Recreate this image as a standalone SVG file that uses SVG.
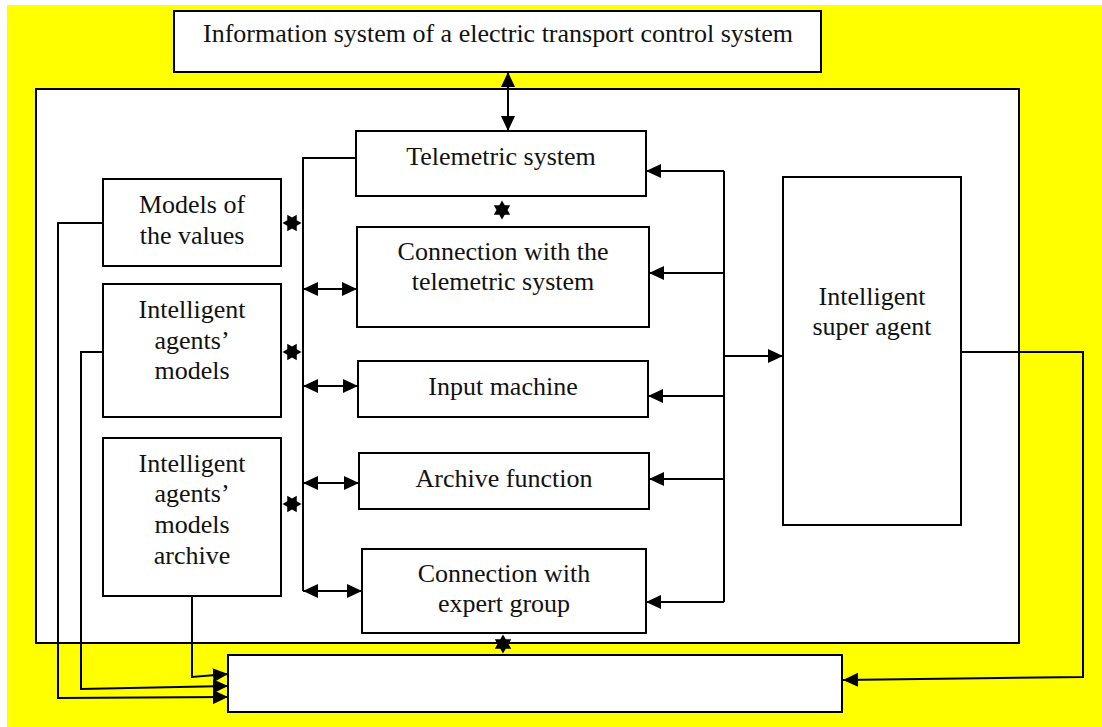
<svg xmlns="http://www.w3.org/2000/svg" width="1102" height="727" viewBox="0 0 1102 727">
<style>
.box{fill:#fff;stroke:#000;stroke-width:2}
.t{font-family:"Liberation Serif","Times New Roman",serif;font-size:26px;fill:#111;text-anchor:middle}
.c{fill:none;stroke:#000;stroke-width:2}
.a{marker-end:url(#ah)}
.aa{marker-end:url(#ah);marker-start:url(#ah)}
</style>
<defs>
<marker id="ah" markerUnits="userSpaceOnUse" markerWidth="16" markerHeight="14" refX="15" refY="7" orient="auto-start-reverse" viewBox="0 0 16 14">
<path d="M0,0 L15,7 L0,14 z" fill="#000"/>
</marker>
<polygon id="star" points="9.5,0 4.75,2.74 4.75,8.23 0,5.48 -4.75,8.23 -4.75,2.74 -9.5,0 -4.75,-2.74 -4.75,-8.23 0,-5.48 4.75,-8.23 4.75,-2.74" fill="#000"/>
</defs>
<rect x="7" y="5" width="1095" height="722" fill="#ffff00"/>
<g id="outer"><rect class="box" x="36" y="89" width="983" height="554"/></g>
<g id="info-system"><rect class="box" x="174" y="11" width="647" height="61"/><text class="t" x="498" y="42">Information system of a electric transport control system</text></g>
<g id="telemetric"><rect class="box" x="356" y="131" width="290" height="65"/><text class="t" x="501" y="165">Telemetric system</text></g>
<g id="conn-telemetric"><rect class="box" x="357" y="227" width="292" height="100"/><text class="t" x="503" y="260">Connection with the</text><text class="t" x="503" y="290">telemetric system</text></g>
<g id="input-machine"><rect class="box" x="358" y="361" width="290" height="56"/><text class="t" x="503" y="395">Input machine</text></g>
<g id="archive-function"><rect class="box" x="359" y="453" width="290" height="56"/><text class="t" x="504" y="487">Archive function</text></g>
<g id="expert-group"><rect class="box" x="362" y="549" width="284" height="84"/><text class="t" x="504" y="582">Connection with</text><text class="t" x="504" y="612">expert group</text></g>
<g id="models-values"><rect class="box" x="103" y="179" width="178" height="87"/><text class="t" x="192" y="213">Models of</text><text class="t" x="192" y="244">the values</text></g>
<g id="agents-models"><rect class="box" x="103" y="284" width="178" height="133"/><text class="t" x="192" y="318">Intelligent</text><text class="t" x="192" y="349">agents’</text><text class="t" x="192" y="379">models</text></g>
<g id="agents-archive"><rect class="box" x="103" y="438" width="178" height="158"/><text class="t" x="192" y="472">Intelligent</text><text class="t" x="192" y="502">agents’</text><text class="t" x="192" y="533">models</text><text class="t" x="192" y="564">archive</text></g>
<g id="super-agent"><rect class="box" x="783" y="177" width="178" height="348"/><text class="t" x="872" y="305">Intelligent</text><text class="t" x="872" y="335">super agent</text></g>
<g id="bottom-box"><rect class="box" x="228" y="655" width="614" height="57"/></g>
<g id="connectors">
<line class="c aa" x1="508" y1="72" x2="508" y2="131"/>
<polyline class="c" points="356,158 303,158 303,591"/>
<line class="c aa" x1="303" y1="289" x2="357" y2="289"/>
<line class="c aa" x1="303" y1="386" x2="358" y2="386"/>
<line class="c aa" x1="303" y1="483" x2="359" y2="483"/>
<line class="c aa" x1="303" y1="591" x2="362" y2="591"/>
<line class="c" x1="724" y1="171" x2="724" y2="602"/>
<line class="c a" x1="724" y1="171" x2="646" y2="171"/>
<line class="c a" x1="724" y1="273" x2="649" y2="273"/>
<line class="c a" x1="724" y1="396" x2="648" y2="396"/>
<line class="c a" x1="724" y1="479" x2="649" y2="479"/>
<line class="c a" x1="724" y1="602" x2="646" y2="602"/>
<line class="c a" x1="724" y1="356" x2="783" y2="356"/>
<polyline class="c a" points="103,223 58,223 58,698 228,697"/>
<polyline class="c a" points="103,352 81,352 81,689 228,686"/>
<polyline class="c a" points="192,596 192,677 228,674"/>
<polyline class="c a" points="961,352 1083,352 1083,677 843,680"/>
<use href="#star" x="292" y="223"/>
<use href="#star" x="292" y="352"/>
<use href="#star" x="292" y="504"/>
<use href="#star" transform="translate(502,210) rotate(90)"/>
<use href="#star" transform="translate(503,644) rotate(90)"/>
</g>
</svg>
